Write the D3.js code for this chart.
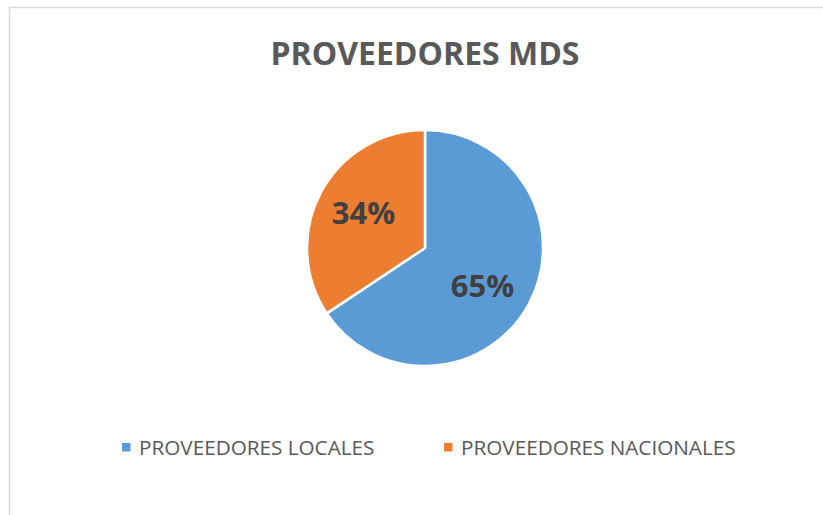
<!DOCTYPE html>
<html><head><meta charset="utf-8">
<script src="https://cdn.jsdelivr.net/npm/d3@7"></script>
<style>html,body{margin:0;padding:0;background:#fff;}</style>
</head><body>
<svg id="chart" width="823" height="515"></svg>
<script>
const categories = ["PROVEEDORES LOCALES", "PROVEEDORES NACIONALES"];
const values = [65, 34];
const labels = ["65%", "34%"];
const colors = ["#5B9BD5", "#ED7D31"];
const title = "PROVEEDORES MDS";

const svg = d3.select("#chart");
const font = "'Open Sans', 'Noto Sans', sans-serif";

svg.append("rect").attr("x", 9.5).attr("y", 7.5).attr("width", 830).attr("height", 530)
  .attr("fill", "#fff").attr("stroke", "#d9d9d9").attr("stroke-width", 1.5);

svg.append("text").attr("x", 425).attr("y", 65).attr("text-anchor", "middle")
  .attr("font-family", font).attr("font-weight", "bold").attr("font-size", 32)
  .attr("fill", "#595959").text(title);

const cx = 425, cy = 248, R = 118;
const pie = d3.pie().sort(null).value(d => d);
const arcs = pie(values);
const arc = d3.arc().innerRadius(0).outerRadius(R);
const labelArc = d3.arc().innerRadius(72 * 2).outerRadius(0);

const g = svg.append("g").attr("transform", `translate(${cx},${cy})`);
g.selectAll("path").data(arcs).join("path")
  .attr("d", arc).attr("fill", (d, i) => colors[i])
  .attr("stroke", "#fff").attr("stroke-width", 2.5).attr("stroke-linejoin", "round");

const lblOffset = [[-6, 3], [2, -2]];
g.selectAll("text.lbl").data(arcs).join("text").attr("class", "lbl")
  .attr("transform", (d, i) => {
    const c = labelArc.centroid(d);
    return `translate(${c[0] + lblOffset[i][0]},${c[1] + lblOffset[i][1]})`;
  })
  .attr("text-anchor", "middle").attr("dominant-baseline", "central")
  .attr("font-family", font).attr("font-weight", "bold").attr("font-size", 31)
  .attr("fill", "#404040").text((d, i) => labels[i]);

const legendX = [122, 444];
const lg = svg.append("g");
categories.forEach((c, i) => {
  lg.append("rect").attr("x", legendX[i]).attr("y", 443).attr("width", 8.5).attr("height", 8.5)
    .attr("fill", colors[i]);
  lg.append("text").attr("x", legendX[i] + 17).attr("y", 454.5)
    .attr("font-family", font).attr("font-size", 20.7).attr("fill", "#595959").text(c);
});
</script>
</body></html>
